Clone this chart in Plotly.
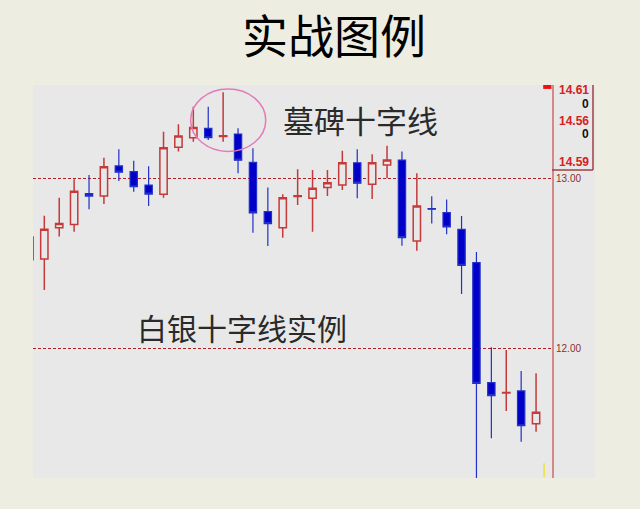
import plotly.graph_objects as go

# candle index (0 is the partly hidden one at the left edge)
days = list(range(35))

opens = [12.657, 12.527, 12.712, 12.730, 12.913, 12.899, 13.077, 13.043, 12.964, 12.909,
         13.188, 13.244, 13.300, 13.251, 13.266, 13.099, 12.807, 12.712, 12.896, 12.886,
         12.949, 12.964, 13.096, 12.969, 13.083, 13.112, 12.633, 12.825, 12.801, 12.702,
         12.505, 11.795, 11.734, 11.746, 11.552]
closes = [12.521, 12.702, 12.736, 12.927, 12.899, 13.073, 13.040, 12.954, 12.911, 13.185,
          13.254, 13.304, 13.244, 13.256, 13.111, 12.799, 12.736, 12.889, 12.901, 12.945,
          12.978, 13.096, 12.975, 13.096, 13.112, 12.653, 12.840, 12.821, 12.716, 12.489,
          11.791, 11.718, 11.737, 11.540, 11.620]
highs = [12.663, 12.783, 12.889, 12.998, 13.024, 13.126, 13.176, 13.108, 13.075, 13.280,
         13.324, 13.428, 13.428, 13.513, 13.300, 13.182, 12.949, 12.909, 13.057, 13.053,
         13.053, 13.167, 13.176, 13.146, 13.197, 13.162, 13.034, 12.898, 12.878, 12.781,
         12.568, 12.004, 11.988, 11.864, 11.850]
lows = [12.515, 12.343, 12.659, 12.688, 12.821, 12.852, 12.988, 12.925, 12.840, 12.889,
        13.162, 13.221, 13.231, 13.221, 13.034, 12.682, 12.604, 12.653, 12.846, 12.688,
        12.899, 12.935, 12.886, 12.882, 13.004, 12.605, 12.576, 12.736, 12.673, 12.320,
        11.219, 11.466, 11.627, 11.446, 11.505]

price_ticks = [12, 13]
price_labels = ["12.00", "13.00"]

# right hand info box
box_labels = ["14.61", "0", "14.56", "0", "14.59"]
box_rows = [0.987, 0.951, 0.909, 0.875, 0.803]
box_colors = ["#d42020", "#111111", "#d42020", "#111111", "#d42020"]

PAGE = "#eeede2"
PANEL = "#e8e8e8"
CJK = "Noto Sans CJK SC"

fig = go.Figure(go.Candlestick(
    x=days, open=opens, high=highs, low=lows, close=closes,
    increasing=dict(line=dict(color="#c43a3a", width=1.5), fillcolor=PANEL),
    decreasing=dict(line=dict(color="#2030c8", width=1.2), fillcolor="#0000c8"),
    whiskerwidth=0,
    showlegend=False,
    hoverinfo="skip",
))

fig.update_layout(
    width=640, height=509,
    margin=dict(l=33, r=88, t=85, b=31),
    paper_bgcolor=PAGE,
    plot_bgcolor=PANEL,
    boxgap=0.3,
    xaxis=dict(range=[0.24, 35.07], visible=False, rangeslider=dict(visible=False)),
    yaxis=dict(
        side="right", range=[11.231, 13.556],
        tickvals=price_ticks, ticktext=price_labels,
        tickfont=dict(family="Liberation Sans", size=10, color="#8c3030"),
        ticks="", showgrid=True, gridcolor="#a82020", gridwidth=1, griddash="3px,2px",
        showline=True, linecolor="#d48888", linewidth=2, zeroline=False,
    ),
)

shapes = [
    # grey strip to the right of the price line
    dict(type="rect", xref="paper", yref="paper", x0=1.0, x1=1.083, y0=0, y1=1,
         fillcolor=PANEL, line=dict(width=0), layer="below"),
    # info box border
    dict(type="line", xref="paper", yref="paper", x0=1.079, x1=1.079, y0=0.784, y1=1,
         line=dict(color="#a04040", width=1.5)),
    dict(type="line", xref="paper", yref="paper", x0=1.0, x1=1.079, y0=0.784, y1=0.784,
         line=dict(color="#a04040", width=1.5)),
    # red marker at the top of the price line
    dict(type="rect", xref="paper", yref="paper", x0=0.983, x1=0.999, y0=0.99, y1=1.0,
         fillcolor="#ee1111", line=dict(width=0)),
    # small yellow current mark
    dict(type="line", x0=34.54, x1=34.54, y0=11.237, y1=11.319,
         line=dict(color="#f0e040", width=1.5)),
    # pink ellipse round the gravestone doji
    dict(type="circle", x0=10.82, x1=15.86, y0=13.163, y1=13.533,
         line=dict(color="#e47ab8", width=1.5)),
]
fig.update_layout(shapes=shapes)

fig.add_annotation(text="实战图例", xref="paper", yref="paper", x=0.58, y=1.132,
                   xanchor="center", yanchor="middle", showarrow=False,
                   font=dict(family=CJK, size=46, color="#000000"))
fig.add_annotation(text="墓碑十字线", x=22.2, y=13.349, xanchor="center", yanchor="middle",
                   showarrow=False, font=dict(family=CJK, size=31, color="#2a2a2a"))
fig.add_annotation(text="白银十字线实例", x=14.27, y=12.124, xanchor="center", yanchor="middle",
                   showarrow=False, font=dict(family=CJK, size=30, color="#2a2a2a"))

for label, row, col in zip(box_labels, box_rows, box_colors):
    fig.add_annotation(text="<b>" + label + "</b>", xref="paper", yref="paper",
                       x=1.075, y=row, xanchor="right", yanchor="middle", showarrow=False,
                       font=dict(family="Liberation Sans", size=12, color=col))

# the page margin would leave a white frame round the chart
fig.write_html("out.html", config={"displayModeBar": False},
               post_script="document.body.style.margin='0';")
